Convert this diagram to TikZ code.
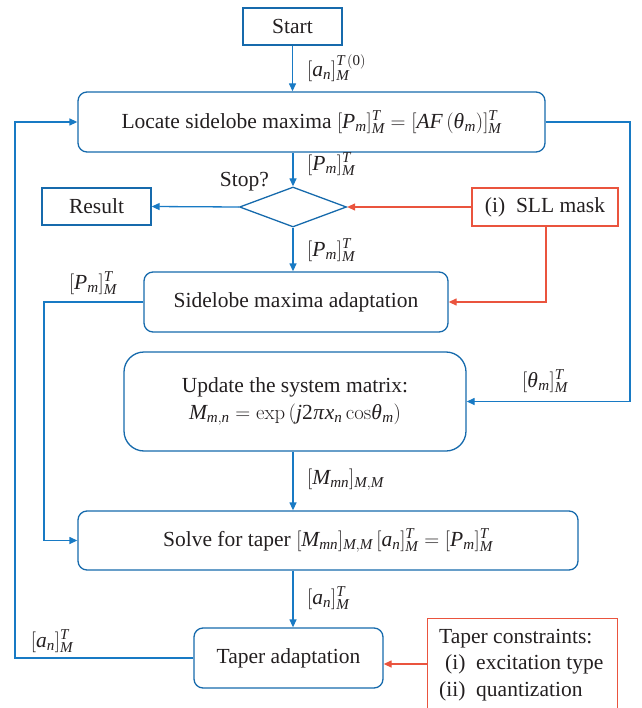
\documentclass[tikz,border=0pt]{standalone}
\usepackage{mathspec}
\setmainfont{Liberation Serif}
\setmathsfont(Digits,Latin,Greek){Liberation Serif}
\usetikzlibrary{shapes.geometric,arrows.meta}
\definecolor{boxblue}{RGB}{22,106,172}
\definecolor{lineblue}{RGB}{24,122,196}
\definecolor{maskred}{RGB}{234,84,62}
\definecolor{ink}{RGB}{35,31,32}
\tikzset{
  every node/.style={text=ink, font=\fontsize{21.5}{26.5}\selectfont},
  plainbox/.style={draw=boxblue, line width=1.3pt, inner sep=0pt, align=center},
  roundbox/.style={plainbox, rounded corners=9pt},
  redbox/.style={draw=maskred, line width=1.3pt, inner sep=0pt, align=center},
  flow/.style={draw=lineblue, line width=1.3pt, -{Triangle[length=8pt,width=7pt]}},
  redflow/.style={draw=maskred, line width=1.3pt, -{Triangle[length=8pt,width=7pt]}},
  lbl/.style={inner sep=1pt}
}
\begin{document}
\begin{tikzpicture}[x=1pt,y=-1pt]
\clip (0,0) rectangle (641,708);

% process boxes
\node[plainbox, minimum width=99, minimum height=37] (start) at (292.5,26.5) {Start};
\node[roundbox, minimum width=467, minimum height=60] (locate) at (311.5,122)
  {Locate sidelobe maxima $[P_m]_M^T=[AF\,(\theta_m)]_M^T$};
\node[draw=boxblue, line width=1.3pt, diamond, minimum width=107, minimum height=40, inner sep=0pt] (stop) at (293,207) {};
\node[plainbox, minimum width=109, minimum height=37] (result) at (96.5,206.5) {Result};
\node[redbox, minimum width=146, minimum height=38] (sll) at (545,207) {(i)\enspace SLL mask};
\node[roundbox, minimum width=304, minimum height=60] (adapt) at (296,302) {Sidelobe maxima adaptation};
\node[plainbox, rounded corners=20pt, minimum width=342, minimum height=99] (update) at (295,401.5)
  {Update the system matrix:\\ $M_{m,n}=\mathrm{exp}\,(j2\pi x_n\,\mathrm{cos}\theta_m)$};
\node[roundbox, minimum width=500, minimum height=59] (solve) at (328,540.5)
  {Solve for taper $[M_{mn}]_{M,M}\,[a_n]_M^T=[P_m]_M^T$};
\node[roundbox, minimum width=189, minimum height=60] (taper) at (288.5,658) {Taper adaptation};

% constraint box, running past the lower edge
\node[redbox, anchor=north west, minimum width=190, minimum height=110] (limits) at (427,618) {};
\node[anchor=base west, inner sep=0pt] (limtext) at (439,643)
  {\begin{tabular}[t]{@{}r@{\enspace}l@{}}
   \multicolumn{2}{@{}l@{}}{Taper constraints:}\\
   (i) & excitation type\\
   (ii) & quantization
   \end{tabular}};

% routing columns and rows
\coordinate (outerL) at (15,0);
\coordinate (innerL) at (44,0);
\coordinate (outerR) at (630,0);
\coordinate (maskX) at (546,0);
\coordinate (limY) at (0,664);

% main flow
\draw[flow] (start.south) -- (start.south |- locate.north);
\draw[flow] (stop.north |- locate.south) -- (stop.north);
\draw[flow] (stop.west) -- (result.east);
\draw[flow] (stop.south) -- (stop.south |- adapt.north);
\draw[flow] (adapt.west) -- (adapt.west -| innerL) -- (innerL |- solve.west) -- (solve.west);
\draw[flow] (locate.east) -- (locate.east -| outerR) -- (outerR |- update.east) -- (update.east);
\draw[flow] (stop.south |- update.south) -- (stop.south |- solve.north);
\draw[flow] (stop.south |- solve.south) -- (stop.south |- taper.north);
\draw[flow] (taper.west) -- (taper.west -| outerL) -- (outerL |- locate.west) -- (locate.west);

% constraint inputs
\draw[redflow] (sll.west) -- (stop.east);
\draw[redflow] (maskX |- sll.south) -- (maskX |- adapt.east) -- (adapt.east);
\draw[redflow] (limits.west |- limY) -- (taper.east |- limY);

% connector labels
\node[lbl, anchor=west] (l0) at (306,68) {$[a_n]_M^{T\,(0)}$};
\node[lbl, anchor=west] (l1) at (306,164) {$[P_m]_M^T$};
\node[lbl, anchor=east] (l2) at (270,182) {Stop?};
\node[lbl, anchor=west] (l3) at (306,250) {$[P_m]_M^T$};
\node[lbl] (l4) at (93,283) {$[P_m]_M^T$};
\node[lbl] (l5) at (545,381) {$[\theta_m]_M^T$};
\node[lbl, anchor=west] (l6) at (306,480) {$[M_{mn}]_{M,M}$};
\node[lbl, anchor=west] (l7) at (306,598) {$[a_n]_M^T$};
\node[lbl] (l8) at (52,641) {$[a_n]_M^T$};
\end{tikzpicture}
\end{document}
